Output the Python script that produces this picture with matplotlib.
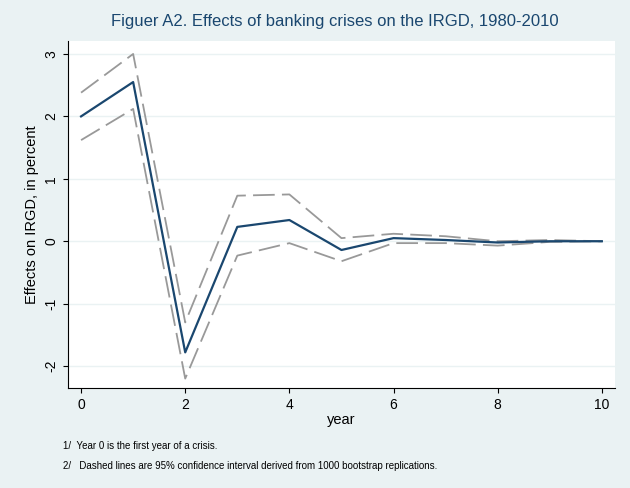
import matplotlib
matplotlib.use("Agg")
import matplotlib.pyplot as plt

years = [0, 1, 2, 3, 4, 5, 6, 7, 8, 9, 10]
effect = [2.0, 2.55, -1.78, 0.23, 0.34, -0.14, 0.05, 0.02, -0.02, 0.0, 0.0]
upper = [2.38, 3.0, -1.3, 0.73, 0.75, 0.05, 0.12, 0.08, 0.0, 0.02, 0.0]
lower = [1.62, 2.12, -2.2, -0.23, -0.03, -0.32, -0.03, -0.03, -0.07, -0.01, 0.0]

plt.rcParams['font.family'] = ['Liberation Sans', 'DejaVu Sans']
fig = plt.figure(figsize=(6.3, 4.88), dpi=100, facecolor='#eaf2f3')
ax = fig.add_axes([0.108, 0.205, 0.868, 0.71])
ax.set_facecolor('white')

ax.plot(years, upper, color='#999999', lw=1.3, dashes=(12, 4))
ax.plot(years, lower, color='#999999', lw=1.3, dashes=(12, 4))
ax.plot(years, effect, color='#1a476f', lw=1.6)

ax.set_xlim(-0.25, 10.25)
ax.set_ylim(-2.35, 3.2)
ax.set_xticks([0, 2, 4, 6, 8, 10])
ax.set_yticks([-2, -1, 0, 1, 2, 3])
ax.set_yticklabels(['-2', '-1', '0', '1', '2', '3'], rotation=90, va='center')
ax.grid(axis='y', color='#eaf2f3', lw=1)
ax.set_axisbelow(True)
for s in ['top', 'right']:
    ax.spines[s].set_visible(False)
ax.set_xlabel('year', fontsize=10.5, labelpad=1)
ax.set_ylabel('Effects on IRGD, in percent', fontsize=10.5)
ax.tick_params(labelsize=10)

fig.text(0.532, 0.955, 'Figuer A2. Effects of banking crises on the IRGD, 1980-2010',
         ha='center', va='center', fontsize=12, color='#1a476f')
fig.text(0.1, 0.08, '1/  Year 0 is the first year of a crisis.', fontsize=7)
fig.text(0.1, 0.038, '2/   Dashed lines are 95% confidence interval derived from 1000 bootstrap replications.', fontsize=7)

fig.savefig('out.png', facecolor=fig.get_facecolor())
